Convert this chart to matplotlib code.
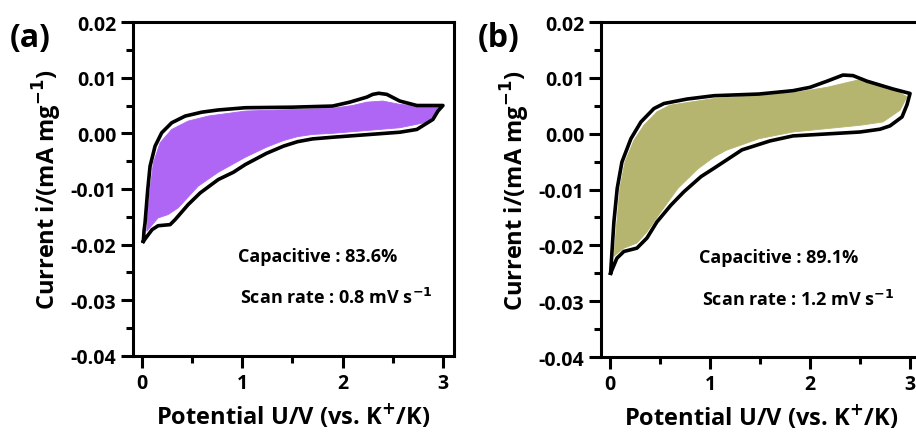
import matplotlib.pyplot as plt
from matplotlib.ticker import MultipleLocator

plt.rcParams['font.family'] = ['Open Sans', 'DejaVu Sans']
plt.rcParams['font.weight'] = 'bold'
plt.rcParams['mathtext.default'] = 'bf'

# panel (a): full CV loop (black) and capacitive part (filled)
cv_a_v = [0.013, 0.02, 0.03, 0.057, 0.08, 0.13, 0.196, 0.296, 0.43, 0.595, 0.76, 1.03, 1.5,
          1.9, 2.07, 2.24, 2.30, 2.36, 2.44, 2.57, 2.74, 3.0,
          2.95, 2.9, 2.74, 2.57, 1.9, 1.7, 1.55, 1.41, 1.24, 1.03, 0.91, 0.76, 0.58, 0.46,
          0.33, 0.28, 0.16, 0.10, 0.013]
cv_a_i = [-0.0194, -0.0175, -0.0161, -0.0101, -0.0059, -0.0023, 0.0001, 0.0019, 0.0031,
          0.0038, 0.0042, 0.0046, 0.0047, 0.0049, 0.0056, 0.0065, 0.0070, 0.0072, 0.0070,
          0.0058, 0.0050, 0.0050,
          0.0040, 0.0025, 0.0007, 0.0002, -0.0007, -0.0010, -0.0015, -0.0023, -0.0036,
          -0.0056, -0.0070, -0.0083, -0.0107, -0.0128, -0.0155, -0.0164, -0.0166, -0.0173,
          -0.0194]
cap_a_v = [0.047, 0.06, 0.08, 0.113, 0.18, 0.296, 0.46, 0.66, 1.03, 1.9, 2.1, 2.24, 2.40,
           2.57, 2.8, 3.0, 2.97, 2.84, 2.57, 1.9, 1.7, 1.55, 1.41, 1.24, 1.03, 0.76, 0.56,
           0.36, 0.26, 0.16, 0.047]
cap_a_i = [-0.0176, -0.0140, -0.0101, -0.0053, -0.0017, 0.0007, 0.0022, 0.0031, 0.0040,
           0.0045, 0.0050, 0.0056, 0.0058, 0.0052, 0.0048, 0.0047, 0.0043, 0.0020, 0.0010,
           0.0000, -0.0002, -0.0006, -0.0013, -0.0025, -0.0043, -0.0070, -0.0095, -0.0134,
           -0.0146, -0.0152, -0.0176]

# panel (b)
cv_b_v = [0.007, 0.023, 0.04, 0.073, 0.12, 0.21, 0.31, 0.44, 0.54, 0.77, 1.04, 1.49, 1.83,
          2.0, 2.17, 2.33, 2.43, 2.57, 2.83, 3.0,
          2.97, 2.92, 2.80, 2.70, 2.5, 1.83, 1.6, 1.32, 1.04, 0.91, 0.74, 0.61, 0.47, 0.37,
          0.27, 0.14, 0.07, 0.007]
cv_b_i = [-0.0250, -0.0205, -0.0158, -0.0098, -0.0051, -0.0009, 0.0021, 0.0045, 0.0054,
          0.0062, 0.0068, 0.0071, 0.0077, 0.0083, 0.0094, 0.0105, 0.0104, 0.0094, 0.0080,
          0.0072,
          0.0052, 0.0030, 0.0014, 0.0008, 0.0003, -0.0004, -0.0013, -0.0029, -0.0062,
          -0.0077, -0.0104, -0.0128, -0.0158, -0.0187, -0.0205, -0.0211, -0.0223, -0.0250]
cap_b_v = [0.04, 0.07, 0.10, 0.15, 0.24, 0.34, 0.47, 0.60, 1.04, 1.83, 2.17, 2.5, 2.67,
           2.85, 2.97, 2.90, 2.73, 2.5, 1.83, 1.49, 1.16, 1.04, 0.88, 0.68, 0.51, 0.37, 0.27,
           0.14, 0.05, 0.04]
cap_b_i = [-0.0220, -0.0158, -0.0098, -0.0051, -0.0012, 0.0015, 0.0039, 0.0051, 0.0063,
           0.0073, 0.0083, 0.0097, 0.0090, 0.0078, 0.0066, 0.0042, 0.0021, 0.0015, 0.0003,
           -0.0009, -0.0030, -0.0042, -0.0063, -0.0098, -0.0140, -0.0176, -0.0196, -0.0205,
           -0.0218, -0.0220]

panels = [
    ('(a)', cv_a_v, cv_a_i, cap_a_v, cap_a_i, '#af66f5', '83.6%', '0.8'),
    ('(b)', cv_b_v, cv_b_i, cap_b_v, cap_b_i, '#b5b56f', '89.1%', '1.2'),
]
boxes = [[0.1452, 0.1868, 0.3504, 0.7608], [0.656, 0.1845, 0.3495, 0.7631]]
text_pos = [(0.327, 0.300, 0.333, 0.177), (0.306, 0.298, 0.316, 0.173)]

fig = plt.figure(figsize=(9.16, 4.39), dpi=100)
for box, tp, (tag, v, i, cv, ci, col, pct, rate) in zip(boxes, text_pos, panels):
    ax = fig.add_axes(box)
    ax.fill(cv, ci, color=col, lw=0.6, zorder=2)
    ax.plot(v, i, color='black', lw=2.6, solid_joinstyle='round', zorder=3)
    ax.set_xlim(-0.09, 3.11)
    ax.set_ylim(-0.04, 0.02)
    ax.xaxis.set_major_locator(MultipleLocator(1))
    ax.xaxis.set_minor_locator(MultipleLocator(0.5))
    ax.yaxis.set_major_locator(MultipleLocator(0.01))
    ax.yaxis.set_minor_locator(MultipleLocator(0.005))
    ax.yaxis.set_major_formatter(lambda y, p: '%.2f' % y)
    for s in ax.spines.values():
        s.set_linewidth(2.2)
    ax.tick_params(which='major', direction='out', length=8.5, width=2.2, labelsize=14)
    ax.tick_params(which='minor', direction='out', length=5, width=2.2)
    ax.set_xlabel('Potential U/V (vs. K$^{+}$/K)', fontsize=17, fontweight='bold', labelpad=6)
    ax.set_ylabel('Current i/(mA mg$^{-1}$)', fontsize=17, fontweight='bold', labelpad=5)
    ax.text(tp[0], tp[1], 'Capacitive : ' + pct, transform=ax.transAxes, fontsize=13,
            fontweight='bold', va='center')
    ax.text(tp[2], tp[3], 'Scan rate : ' + rate + ' mV s$^{-1}$', transform=ax.transAxes,
            fontsize=13, fontweight='bold', va='center')
    ax.text(-0.385, 0.955, tag, transform=ax.transAxes, fontsize=23, fontweight='bold',
            va='center')

fig.savefig('out.png', dpi=100)
